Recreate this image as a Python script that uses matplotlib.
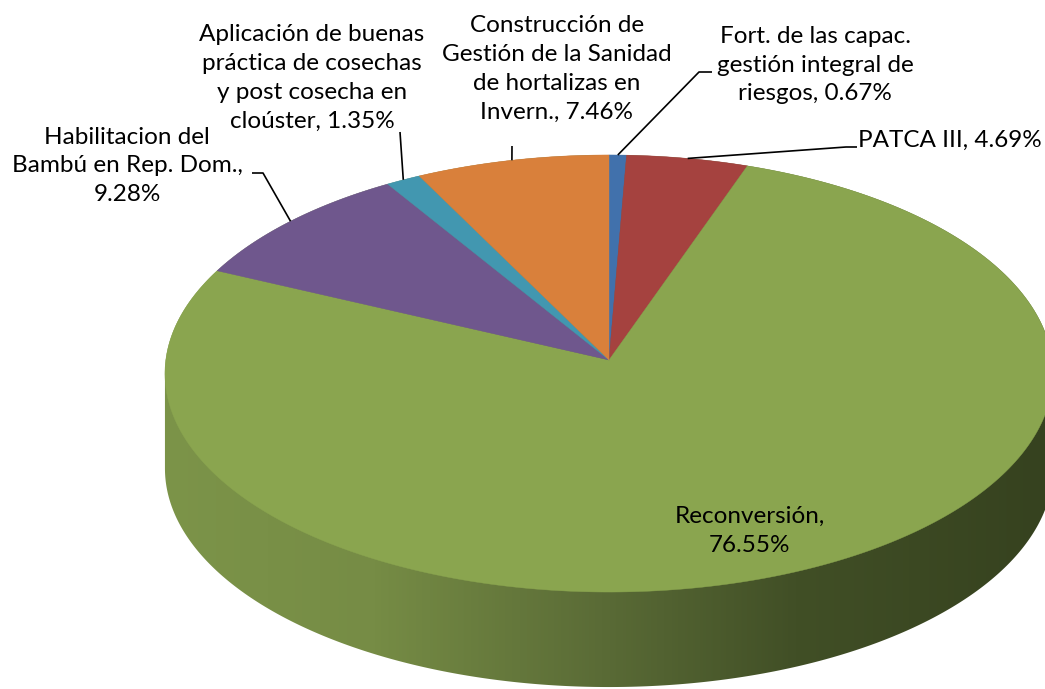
import numpy as np
import matplotlib
matplotlib.use("Agg")
import matplotlib.pyplot as plt
from matplotlib.patches import Polygon
from matplotlib.colors import LinearSegmentedColormap

# ---- data ----
labels = [
    "Fort. de las capac.\ngestión integral de\nriesgos, 0.67%",
    "PATCA III, 4.69%",
    "Reconversión,\n76.55%",
    "Habilitacion del\nBambú en Rep. Dom.,\n9.28%",
    "Aplicación de buenas\npráctica de cosechas\ny post cosecha en\ncloúster, 1.35%",
    "Construcción de\nGestión de la Sanidad\nde hortalizas en\nInvern., 7.46%",
]
values = [0.67, 4.69, 76.55, 9.28, 1.35, 7.46]
colors = ["#4171AC", "#A5423F", "#8AA54F", "#6F578D", "#4297B0", "#D9803B"]

# ---- layout / style ----
W, H = 1045, 689
CX, CY = 609, 360
RX, RY, K = 443.2, 217.7, 0.0618
DEPTH = 95

plt.rcParams['font.family'] = ['Lato', 'DejaVu Sans']
FS = 17.5
LS = 1.47

fig = plt.figure(figsize=(W / 100, H / 100), dpi=100)
ax = fig.add_axes([0, 0, 1, 1])


def proj(theta_deg, r=1.0, dz=0.0):
    t = np.radians(theta_deg)
    u = r * np.cos(t)
    v = r * np.sin(t)
    d = 1 + K * v
    return CX + RX * u / d, CY - RY * v / d + dz


# ---- side (gradient) ----
tw = np.degrees(np.arcsin(K))
th_front = np.linspace(180 + tw, 360 - tw, 400)
th_back = np.linspace(360 - tw, 360 + 180 + tw, 400)
bx, by = proj(th_front, dz=DEPTH)
tx, ty = proj(th_back)
side_pts = np.column_stack([np.concatenate([bx, tx]), np.concatenate([by, ty])])
side_patch = Polygon(side_pts, closed=True, facecolor='none', edgecolor='none')
ax.add_patch(side_patch)
side_cmap = LinearSegmentedColormap.from_list(
    "side", [(0.0, "#7C9449"), (0.24, "#768C45"), (0.5, "#5A6B36"),
             (0.72, "#414F26"), (1.0, "#36421F")])
grad = np.linspace(0, 1, 600)[None, :]
img = ax.imshow(grad, extent=(160, 1045, H, 0), cmap=side_cmap,
                aspect='auto', interpolation='bilinear', zorder=1)
img.set_clip_path(side_patch)

# ---- top face slices ----
cum = np.concatenate([[0], np.cumsum(values)]) / sum(values)
mids = []
for i, val in enumerate(values):
    t1 = 90 - cum[i] * 360
    t2 = 90 - cum[i + 1] * 360
    th = np.linspace(t1, t2, 300)
    x, y = proj(th)
    pts = np.column_stack([np.concatenate([[CX], x]), np.concatenate([[CY], y])])
    ax.add_patch(Polygon(pts, closed=True, facecolor=colors[i],
                         edgecolor=colors[i], linewidth=0.3, zorder=2))
    mids.append((t1 + t2) / 2)

# ---- labels ----
label_pos = [(815, 65), (950, 140), (750, 531), (127, 166), (312, 78), (557, 69)]
leader_start = [[(712, 72), (699, 72)], [(857, 147), (846, 147)], None,
                [(252, 173), (263, 173)], [(400, 132)], [(512, 146)]]

for i, lab in enumerate(labels):
    ax.text(label_pos[i][0], label_pos[i][1], lab, ha='center', va='center',
            fontsize=FS, linespacing=LS, color='black', zorder=4,
            multialignment='center')
    if leader_start[i] is not None:
        ex, ey = proj(mids[i])
        xs = [p[0] for p in leader_start[i]] + [ex]
        ys = [p[1] for p in leader_start[i]] + [ey]
        ax.plot(xs, ys, color='black', linewidth=1.2, zorder=3,
                solid_capstyle='butt')

ax.set_xlim(0, W)
ax.set_ylim(H, 0)
ax.axis('off')
fig.savefig("out.png", dpi=100, facecolor='white')
